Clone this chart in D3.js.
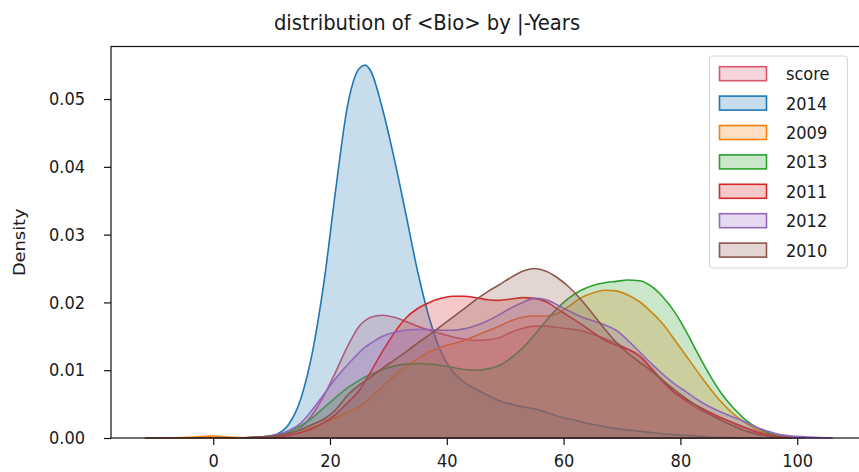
<!DOCTYPE html>
<html>
<head>
<meta charset="utf-8">
<script src="https://cdn.jsdelivr.net/npm/d3@7"></script>
<style>
  body { margin: 0; background: #fff; }
  text { font-family: "DejaVu Sans", sans-serif; fill: #1a1a1a; }
</style>
</head>
<body>
<svg id="chart" width="859" height="472"></svg>
<script>
// KDE evaluation grid (score axis) shared by every group
const gridX = [-11.6, -8.5, -5.5, -2.5, 0, 2,
  5, 7, 9, 11, 13, 15, 17, 19, 21, 23,
  25, 26, 27, 29, 31, 33, 35, 37, 39, 41, 43,
  45, 47, 49, 51, 53, 55, 57, 59, 61, 63,
  65, 67, 69, 71, 73, 75, 77, 79, 81, 83,
  85, 87, 89, 91, 93, 95, 97, 99, 101, 103,
  106];

// density estimates per group, in legend / drawing order
const densScore = [0, 0, 0, 0, 0, 0,
  0, 0.0001, 0.0001, 0.0003, 0.0006, 0.0015, 0.0035, 0.0063, 0.0098, 0.0135,
  0.0165, 0.0173, 0.0178, 0.0181, 0.0178, 0.0172, 0.0165, 0.0159, 0.0154, 0.0149, 0.0146,
  0.0144, 0.0145, 0.0148, 0.0156, 0.0162, 0.0165, 0.0165, 0.0163, 0.0161, 0.0158,
  0.0153, 0.0147, 0.0140, 0.0131, 0.0121, 0.0104, 0.0085, 0.0068, 0.0054, 0.0043,
  0.0035, 0.0029, 0.0023, 0.0016, 0.0010, 0.0006, 0.0003, 0.0001, 0, 0,
  0];
const dens2014 = [0, 0, 0, 0, 0, 0,
  0, 0.00005, 0.0002, 0.0006, 0.0021, 0.0058, 0.0127, 0.0232, 0.0368, 0.0490,
  0.0545, 0.0550, 0.0541, 0.0485, 0.0412, 0.0330, 0.0246, 0.0177, 0.0127, 0.0098, 0.0082,
  0.0072, 0.0063, 0.0055, 0.0050, 0.0046, 0.0043, 0.0038, 0.0032, 0.0028, 0.0024,
  0.0020, 0.0017, 0.0014, 0.0012, 0.0010, 0.0008, 0.0006, 0.0005, 0.0004, 0.0003,
  0.00015, 0.0001, 0.00006, 0.00003, 0, 0, 0, 0, 0, 0,
  0];
const dens2009 = [0, 0.00003, 0.00008, 0.00018, 0.0003, 0.00018,
  0.00005, 0.00005, 0.0001, 0.0002, 0.0004, 0.0009, 0.0016, 0.0022, 0.0030, 0.0038,
  0.0046, 0.0053, 0.0060, 0.0076, 0.0092, 0.0105, 0.0117, 0.0127, 0.0134, 0.0139, 0.0144,
  0.0151, 0.0158, 0.0165, 0.0173, 0.0178, 0.0180, 0.0180, 0.0184, 0.0195, 0.0207,
  0.0214, 0.0218, 0.0217, 0.0211, 0.0201, 0.0186, 0.0168, 0.0145, 0.0121, 0.0097,
  0.0074, 0.0053, 0.0036, 0.0023, 0.0013, 0.0007, 0.0003, 0.0001, 0, 0,
  0];
const dens2013 = [0, 0, 0, 0, 0, 0,
  0, 0.0001, 0.0002, 0.0004, 0.0009, 0.0018, 0.0030, 0.0045, 0.0060, 0.0074,
  0.0085, 0.0090, 0.0094, 0.0101, 0.0106, 0.0109, 0.0110, 0.0109, 0.0107, 0.0104, 0.0101,
  0.0100, 0.0102, 0.0107, 0.0118, 0.0133, 0.0152, 0.0173, 0.0192, 0.0207, 0.0218,
  0.0225, 0.0229, 0.0231, 0.0233, 0.0232, 0.0224, 0.0208, 0.0186, 0.0157, 0.0124,
  0.0093, 0.0066, 0.0045, 0.0028, 0.0016, 0.0008, 0.0003, 0.0001, 0, 0,
  0];
const dens2011 = [0, 0, 0, 0, 0, 0,
  0, 0, 0.0001, 0.0002, 0.0004, 0.0008, 0.0014, 0.0023, 0.0035, 0.0052,
  0.0070, 0.0084, 0.0098, 0.0128, 0.0155, 0.0177, 0.0191, 0.0200, 0.0206, 0.0209, 0.0209,
  0.0207, 0.0204, 0.0203, 0.0205, 0.0207, 0.0206, 0.0201, 0.0190, 0.0179, 0.0168,
  0.0156, 0.0145, 0.0137, 0.0131, 0.0121, 0.0102, 0.0083, 0.0067, 0.0056, 0.0047,
  0.0038, 0.0030, 0.0022, 0.0015, 0.0009, 0.0005, 0.0002, 0.0001, 0, 0,
  0];
const dens2012 = [0, 0, 0, 0, 0, 0,
  0, 0.0001, 0.0002, 0.0005, 0.0011, 0.0022, 0.0042, 0.0065, 0.0088, 0.0108,
  0.0126, 0.0134, 0.0140, 0.0150, 0.0156, 0.0159, 0.0160, 0.0160, 0.0159, 0.0159, 0.0161,
  0.0166, 0.0173, 0.0182, 0.0192, 0.0200, 0.0206, 0.0204, 0.0196, 0.0187, 0.0179,
  0.0173, 0.0167, 0.0159, 0.0144, 0.0127, 0.0110, 0.0094, 0.0080, 0.0068, 0.0056,
  0.0046, 0.0038, 0.0031, 0.0024, 0.0016, 0.0010, 0.0005, 0.0003, 0.0002, 0.0001,
  0];
const dens2010 = [0, 0.00001, 0.00001, 0.00002, 0.00004, 0.00003,
  0, 0.0001, 0.0002, 0.0004, 0.0007, 0.0012, 0.0020, 0.0028, 0.0042, 0.0063,
  0.0078, 0.0084, 0.0090, 0.0103, 0.0115, 0.0127, 0.0140, 0.0152, 0.0165, 0.0178, 0.0191,
  0.0204, 0.0216, 0.0226, 0.0237, 0.0246, 0.0250, 0.0246, 0.0236, 0.0222, 0.0204,
  0.0183, 0.0161, 0.0141, 0.0125, 0.0112, 0.0099, 0.0085, 0.0071, 0.0058, 0.0046,
  0.0035, 0.0026, 0.0018, 0.0011, 0.0006, 0.0003, 0.0001, 0, 0, 0,
  0];

const groupLabels = ["score", "2014", "2009", "2013", "2011", "2012", "2010"];
const groupColors = ["#dc5468", "#1f77b4", "#ff7f0e", "#2ca02c", "#d62728", "#9467bd", "#8c564b"];
const groupDensities = [densScore, dens2014, dens2009, dens2013, dens2011, dens2012, dens2010];

const xTicks = [0, 20, 40, 60, 80, 100];
const yTicks = [0, 0.01, 0.02, 0.03, 0.04, 0.05];
const xLimits = [-17.5, 111.9];
const yLimits = [0, 0.05775];

const titleText = "distribution of <Bio> by |-Years";
const yLabelText = "Density";

// ---- layout ----
const plot = { left: 111, right: 866.7, top: 46.5, bottom: 438 };
const fontPx = 16.2;       // tick, label and legend text
const tallText = 1.1;      // glyphs are drawn slightly taller than wide

const svg = d3.select("#chart");
const x = d3.scaleLinear().domain(xLimits).range([plot.left, plot.right]);
const y = d3.scaleLinear().domain(yLimits).range([plot.bottom, plot.top]);

svg.append("defs").append("clipPath").attr("id", "plotClip")
  .append("rect")
  .attr("x", plot.left).attr("y", plot.top - 2)
  .attr("width", plot.right - plot.left).attr("height", plot.bottom - plot.top + 4);

// ---- density curves: filled, outlined, drawn in order ----
const area = d3.area()
  .x(d => x(d[0]))
  .y0(y(0))
  .y1(d => y(d[1]))
  .curve(d3.curveMonotoneX);

const curves = svg.append("g").attr("clip-path", "url(#plotClip)");
groupDensities.forEach((vals, i) => {
  let first = vals.findIndex(v => v > 0);
  let last = vals.length - 1;
  while (last > 0 && vals[last] === 0) last--;
  first = Math.max(0, first - 1);
  last = Math.min(vals.length - 1, last + 1);
  const pts = [];
  for (let k = first; k <= last; k++) pts.push([gridX[k], vals[k]]);
  curves.append("path")
    .datum(pts)
    .attr("d", area)
    .attr("fill", groupColors[i])
    .attr("fill-opacity", 0.25)
    .attr("stroke", groupColors[i])
    .attr("stroke-width", 1.6)
    .attr("stroke-linejoin", "round");
});

// ---- axes ----
const xAxis = svg.append("g")
  .attr("transform", `translate(0,${plot.bottom})`)
  .call(d3.axisBottom(x).tickValues(xTicks).tickSize(7).tickSizeOuter(0).tickPadding(8)
    .tickFormat(d3.format("d")));
const yAxis = svg.append("g")
  .attr("transform", `translate(${plot.left},0)`)
  .call(d3.axisLeft(y).tickValues(yTicks).tickSize(7).tickSizeOuter(0).tickPadding(19)
    .tickFormat(d3.format(".2f")));

[xAxis, yAxis].forEach(g => {
  g.select(".domain").remove();
  g.selectAll(".tick line").attr("stroke", "#111").attr("stroke-width", 1.2);
  g.selectAll(".tick text")
    .attr("fill", "#1a1a1a")
    .attr("transform", `scale(1,${tallText})`)
    .style("font-size", fontPx + "px")
    .style("font-family", "DejaVu Sans, sans-serif");
});

// frame
svg.append("rect")
  .attr("x", plot.left).attr("y", plot.top)
  .attr("width", plot.right - plot.left).attr("height", plot.bottom - plot.top)
  .attr("fill", "none").attr("stroke", "#111").attr("stroke-width", 1.2);

// ---- title and axis label ----
svg.append("text")
  .attr("transform", `translate(427,30) scale(1,${tallText})`)
  .attr("text-anchor", "middle")
  .style("font-size", "19.6px")
  .text(titleText);

svg.append("text")
  .attr("transform", `translate(25,${(plot.top + plot.bottom) / 2}) scale(1,${tallText}) rotate(-90)`)
  .attr("text-anchor", "middle")
  .style("font-size", fontPx + "px")
  .text(yLabelText);

// ---- legend ----
const legend = svg.append("g");
legend.append("rect")
  .attr("x", 709.5).attr("y", 56).attr("width", 138).attr("height", 212)
  .attr("rx", 3).attr("ry", 3)
  .attr("fill", "#fff").attr("fill-opacity", 0.8)
  .attr("stroke", "#d4d4d4").attr("stroke-width", 1);

groupLabels.forEach((lab, i) => {
  const yc = 73.7 + i * 29.4;
  legend.append("rect")
    .attr("x", 719.5).attr("y", yc - 7).attr("width", 47).attr("height", 14)
    .attr("fill", groupColors[i]).attr("fill-opacity", 0.25)
    .attr("stroke", groupColors[i]).attr("stroke-width", 1.6);
  legend.append("text")
    .attr("transform", `translate(786,${yc + 0.36 * fontPx * tallText}) scale(1,${tallText})`)
    .style("font-size", fontPx + "px")
    .text(lab);
});
</script>
</body>
</html>
